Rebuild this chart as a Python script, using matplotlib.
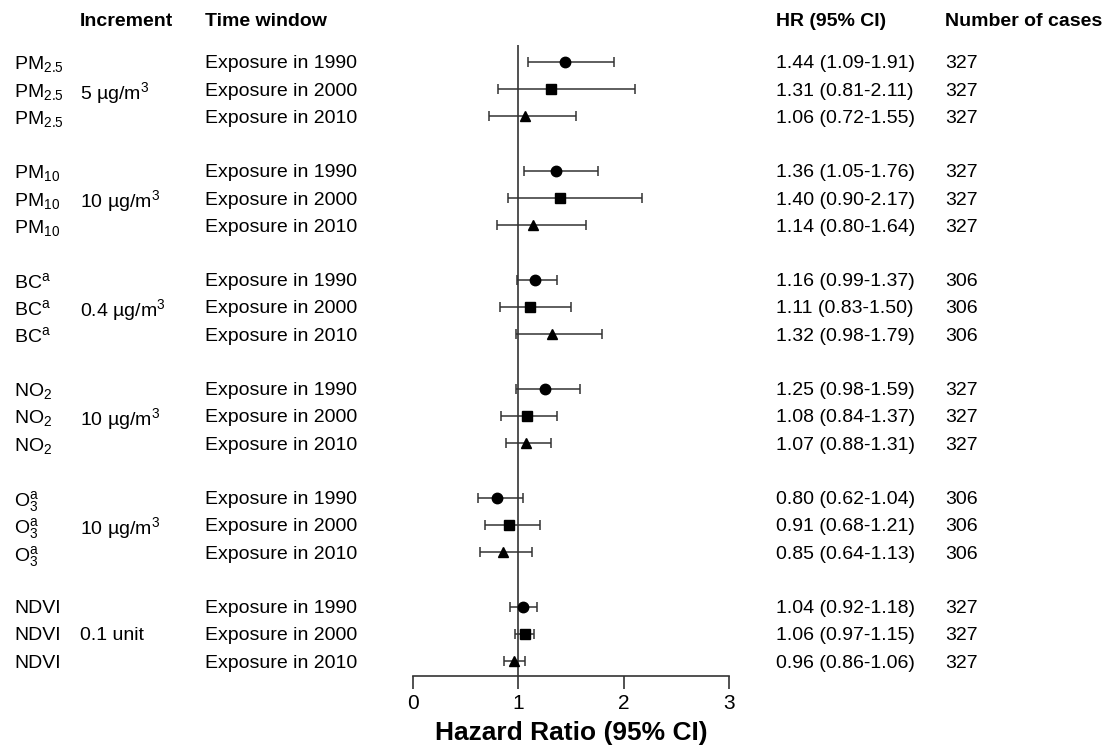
import numpy as np
import matplotlib
matplotlib.use("Agg")
from matplotlib import pyplot
from matplotlib import transforms

# data
pollutants = ["PM$_{2.5}$", "PM$_{10}$", "BC$^{\\mathrm{a}}$", "NO$_2$", "O$_3^{\\mathrm{a}}$", "NDVI"]
increments = ["5 µg/m$^3$", "10 µg/m$^3$", "0.4 µg/m$^3$", "10 µg/m$^3$", "10 µg/m$^3$", "0.1 unit"]
windows = ["Exposure in 1990", "Exposure in 2000", "Exposure in 2010"]
markers = ["o", "s", "^"]

hr = [[1.44, 1.31, 1.06],
      [1.36, 1.40, 1.14],
      [1.16, 1.11, 1.32],
      [1.25, 1.08, 1.07],
      [0.80, 0.91, 0.85],
      [1.04, 1.06, 0.96]]
ci_low = [[1.09, 0.81, 0.72],
          [1.05, 0.90, 0.80],
          [0.99, 0.83, 0.98],
          [0.98, 0.84, 0.88],
          [0.62, 0.68, 0.64],
          [0.92, 0.97, 0.86]]
ci_high = [[1.91, 2.11, 1.55],
           [1.76, 2.17, 1.64],
           [1.37, 1.50, 1.79],
           [1.59, 1.37, 1.31],
           [1.04, 1.21, 1.13],
           [1.18, 1.15, 1.06]]
cases = [[327, 327, 327],
         [327, 327, 327],
         [306, 306, 306],
         [327, 327, 327],
         [306, 306, 306],
         [327, 327, 327]]

pyplot.rcParams["font.family"] = ["Liberation Sans", "DejaVu Sans"]
pyplot.rcParams["mathtext.fontset"] = "custom"
pyplot.rcParams["mathtext.rm"] = "Liberation Sans"
pyplot.rcParams["mathtext.it"] = "Liberation Sans:italic"
pyplot.rcParams["mathtext.bf"] = "Liberation Sans:bold"

W, H = 1109, 749
fig = pyplot.figure(figsize=(W / 100, H / 100), dpi=100)
fig.patch.set_facecolor("white")

# axes in pixel coords: x 0..3 -> 413..729, bottom at 676, top at 45
ax = fig.add_axes([413 / W, (H - 676) / H, (729 - 413) / W, (676 - 45) / H])
ax.set_xlim(0, 3)
ax.set_ylim(-22.55, 0.62)

line_col = "#333333"
fs = 14
col_x = {"pollutant": 14, "increment": 80, "window": 205, "hr": 776, "cases": 945}
marker_size = [7.5, 7.5, 7]

tr = transforms.blended_transform_factory(fig.transFigure, ax.transData)

row = 0
for g in range(len(pollutants)):
    for k in range(3):
        y = -row
        ax.errorbar(hr[g][k], y,
                    xerr=[[hr[g][k] - ci_low[g][k]], [ci_high[g][k] - hr[g][k]]],
                    fmt=markers[k], color="black", ecolor=line_col, elinewidth=1.1,
                    capsize=3.5, capthick=1.1, markersize=marker_size[k], zorder=3)
        ax.text(col_x["pollutant"] / W, y, pollutants[g], transform=tr, fontsize=fs,
                va="center_baseline", ha="left")
        ax.text(col_x["window"] / W, y, windows[k], transform=tr, fontsize=fs,
                va="center_baseline", ha="left")
        ax.text(col_x["hr"] / W, y, f"{hr[g][k]:.2f} ({ci_low[g][k]:.2f}-{ci_high[g][k]:.2f})",
                transform=tr, fontsize=fs, va="center_baseline", ha="left")
        ax.text(col_x["cases"] / W, y, str(cases[g][k]), transform=tr, fontsize=fs,
                va="center_baseline", ha="left")
        if k == 1:
            ax.text(col_x["increment"] / W, y, increments[g], transform=tr, fontsize=fs,
                    va="center_baseline", ha="left")
        row += 1
    row += 1

# headers
hy = 1 - 22 / H
fig.text(col_x["increment"] / W, hy, "Increment", fontsize=fs, fontweight="bold", va="center", ha="left")
fig.text(col_x["window"] / W, hy, "Time window", fontsize=fs, fontweight="bold", va="center", ha="left")
fig.text(col_x["hr"] / W, hy, "HR (95% CI)", fontsize=fs, fontweight="bold", va="center", ha="left")
fig.text(col_x["cases"] / W, hy, "Number of cases", fontsize=fs, fontweight="bold", va="center", ha="left")

ax.axvline(1, color=line_col, lw=1.2, zorder=1)

for s in ["left", "top", "right"]:
    ax.spines[s].set_visible(False)
ax.spines["bottom"].set_bounds(0, 3)
ax.spines["bottom"].set_color(line_col)
ax.spines["bottom"].set_linewidth(1.2)
ax.set_yticks([])
ax.set_xticks([0, 1, 2, 3])
ax.tick_params(axis="x", direction="out", length=9, width=1.2, color=line_col,
               labelsize=fs + 1, pad=4)
ax.set_xlabel("Hazard Ratio (95% CI)", fontsize=19, fontweight="bold", labelpad=6)
ax.patch.set_alpha(0)

fig.savefig("out.png", dpi=100)
